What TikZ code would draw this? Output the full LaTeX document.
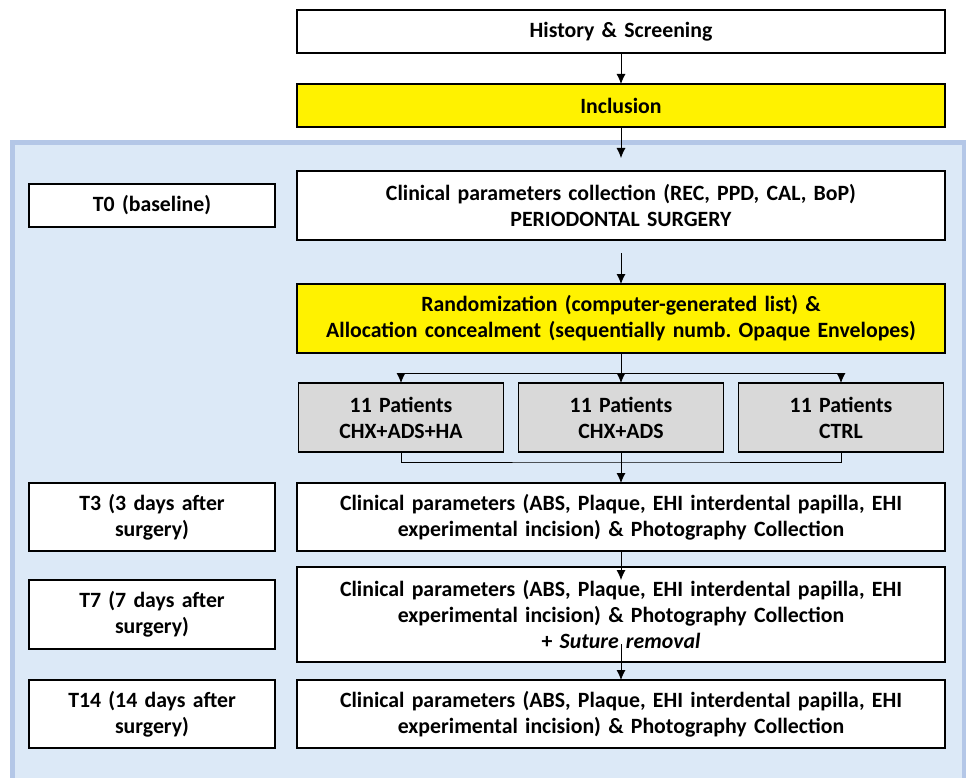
\documentclass[tikz,border=0pt]{standalone}
\usepackage{fontspec}
\setmainfont{Carlito}
\usetikzlibrary{arrows.meta,positioning}

\definecolor{panelfill}{HTML}{DCE9F7}
\definecolor{panelline}{HTML}{B4C7E7}
\definecolor{boxgray}{HTML}{D9D9D9}

\tikzset{
  box/.style={draw, line width=1.4pt, fill=white, inner xsep=0pt, inner ysep=0pt,
    outer sep=0pt, align=center, font=\fontsize{21.8}{26}\selectfont\bfseries},
  mainbox/.style={box, text width=648pt, minimum height=#1},
  mainbox/.default=43pt,
  labelbox/.style={box, text width=246pt, minimum height=#1},
  labelbox/.default=43pt,
  groupbox/.style={box, fill=boxgray, text width=205pt, minimum height=69pt},
  arr/.style={-{Latex[length=10pt,width=9pt]}, line width=0.8pt},
  link/.style={line width=0.8pt}
}

\begin{document}
\frenchspacing
\begin{tikzpicture}[x=1pt,y=1pt]

\useasboundingbox (0,0) rectangle (966,-778);

\fill[panelfill] (12,-143) rectangle (964,-800);
\draw[panelline, line width=5pt] (12,-800) -- (12,-143) -- (964,-143) -- (964,-800);

\node[mainbox] (hist) at (621,-31.5) {History \& Screening};
\node[mainbox, fill=yellow, below =31pt of hist] (incl) {Inclusion};

\node[mainbox=69pt, below =44pt of incl] (coll) {Clinical parameters collection (REC, PPD, CAL, BoP)\\PERIODONTAL SURGERY};
\node[labelbox, left =22pt of coll] (t0) {T0 (baseline)};

\node[mainbox=69pt, fill=yellow, below =44pt of coll] (rand) {Randomization (computer-generated list) \&\\Allocation concealment (sequentially numb. Opaque Envelopes)};

\node[groupbox, below =30pt of rand] (g2) {11 Patients\\CHX+ADS};
\node[groupbox, left =15pt of g2] (g1) {11 Patients\\CHX+ADS+HA};
\node[groupbox, right =15pt of g2] (g3) {11 Patients\\CTRL};

\node[mainbox=68pt, below =31pt of g2] (m3) {Clinical parameters (ABS, Plaque, EHI interdental papilla, EHI\\experimental incision) \& Photography Collection};
\node[labelbox=68pt, left =22pt of m3] (t3) {T3 (3 days after\\surgery)};

\node[mainbox=95pt, below =16pt of m3] (m7) {Clinical parameters (ABS, Plaque, EHI interdental papilla, EHI\\experimental incision) \& Photography Collection\\+ \textit{Suture removal}};
\node[labelbox=69pt, left =22pt of m7] (t7) {T7 (7 days after\\surgery)};

\node[mainbox=68pt, below =18pt of m7] (m14) {Clinical parameters (ABS, Plaque, EHI interdental papilla, EHI\\experimental incision) \& Photography Collection};
\node[labelbox=68pt, left =22pt of m14] (t14) {T14 (14 days after\\surgery)};

\coordinate (inclend) at ([yshift=-31pt]incl.south);
\coordinate (collend) at ([yshift=-13pt]coll.south);
\coordinate (split) at ([yshift=-20pt]rand.south);
\coordinate (merge) at ([yshift=-10pt]g2.south);
\coordinate (m7tip) at ([yshift=-13pt]m7.north);
\coordinate (m7end) at ([yshift=18pt]m7.south);

\draw [arr] (hist) to (incl);
\draw [arr] (incl) to (inclend);
\draw [arr] (collend) to (rand);

\draw [arr] (rand) to (g2);
\draw [arr] (split) -| (g1);
\draw [arr] (split) -| (g3);

\draw [link] (g1) |- (merge) -| (g3);
\draw [arr] (g2) to (m3);

\draw [arr] (m3) to (m7tip);
\draw [arr] (m7end) to (m14);

\end{tikzpicture}
\end{document}
